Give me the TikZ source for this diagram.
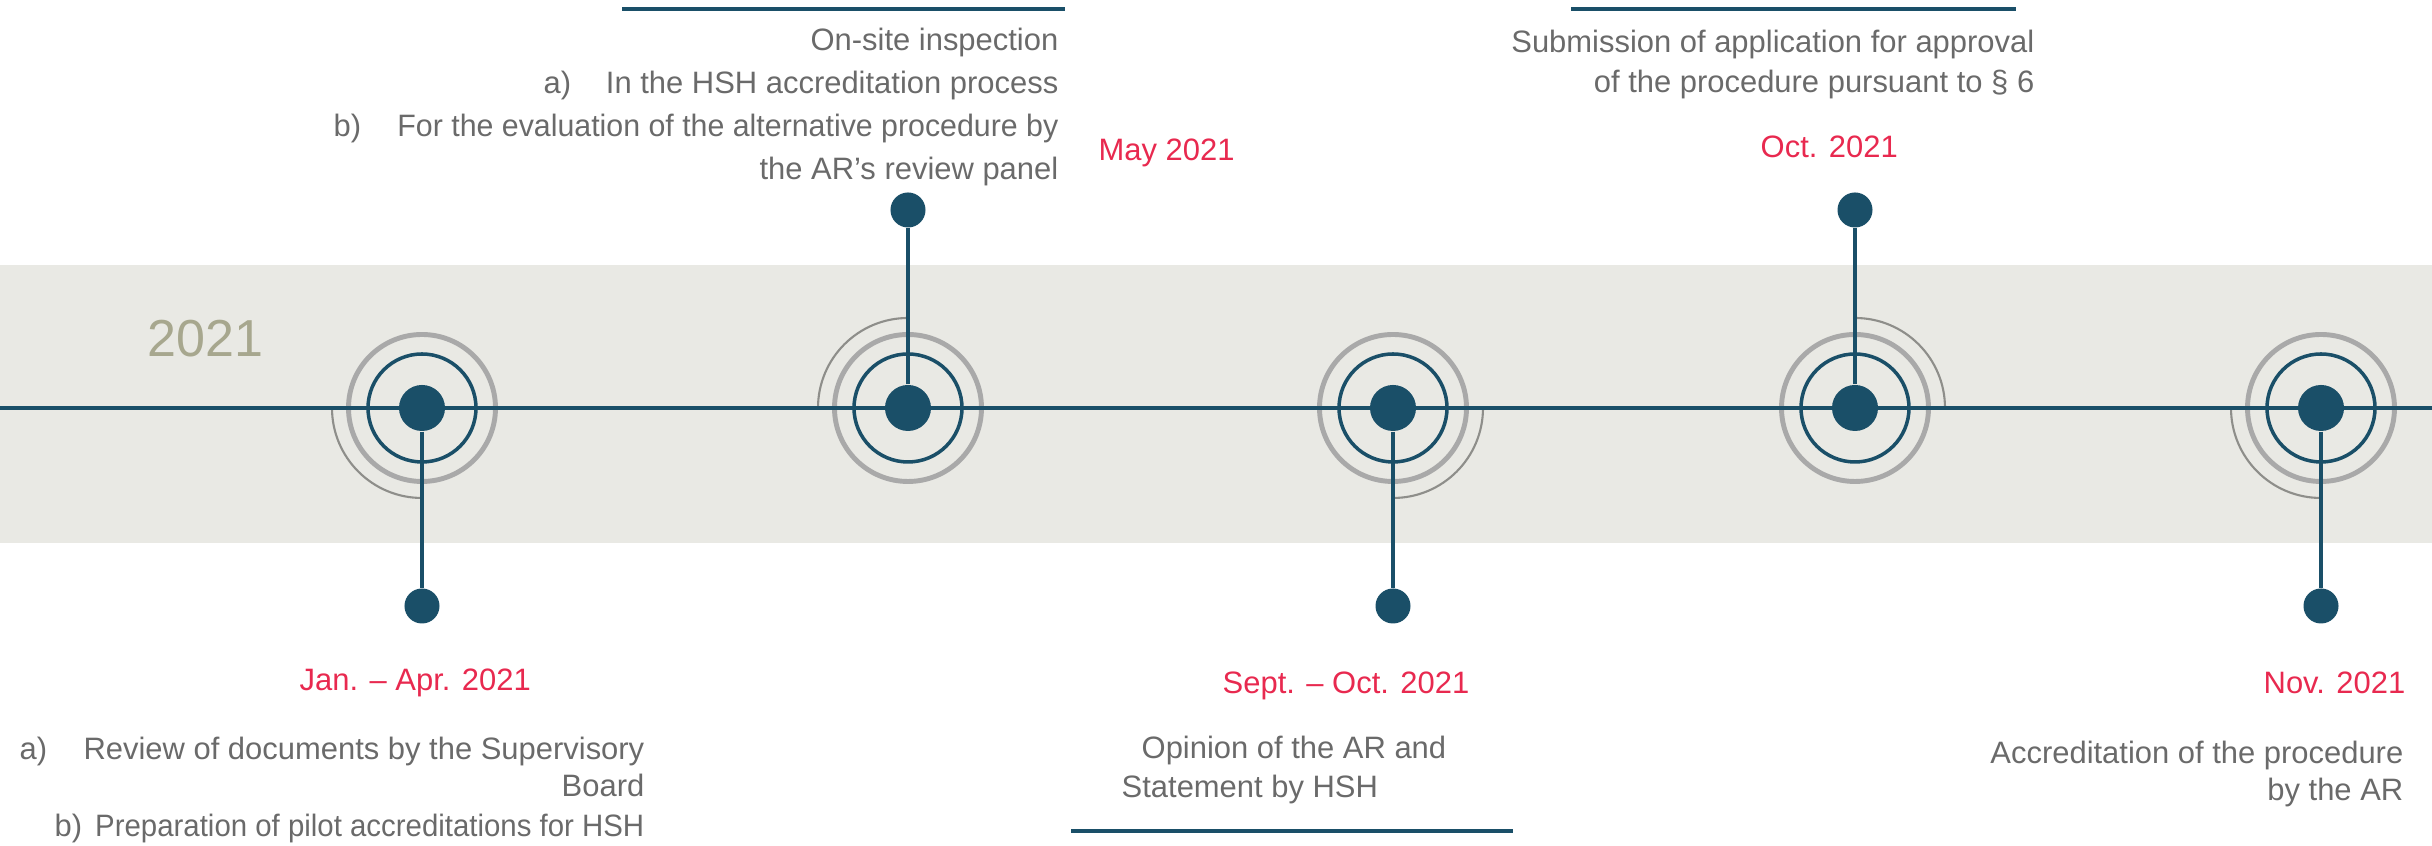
\documentclass[tikz,border=0pt]{standalone}
\usepackage{fontspec}
\setmainfont{Liberation Sans}
\definecolor{tlblue}{HTML}{1A4F68}
\definecolor{ringgray}{HTML}{A9A9A9}
\definecolor{arcgray}{HTML}{8E8E8A}
\definecolor{bandgray}{HTML}{E9E9E4}
\definecolor{txtgray}{HTML}{6A6A6A}
\definecolor{datered}{HTML}{E8294F}
\definecolor{yeargray}{HTML}{A7A78E}
\begin{document}
\begin{tikzpicture}[x=0.01cm, y=0.01cm, font=\fontsize{8.8}{12}\selectfont, line cap=butt,
	dot/.style={circle, fill=tlblue, inner sep=0pt, minimum size=0.46cm},
	tipdot/.style={circle, fill=tlblue, inner sep=0pt, minimum size=0.35cm},
	ring/.style={ringgray, line width=1.4pt},
	inring/.style={tlblue, line width=1pt},
	quarter/.style={arcgray, line width=0.6pt},
	stem/.style={tlblue, line width=1.1pt},
	bar/.style={tlblue, line width=1.2pt},
	txt/.style={text=txtgray, inner sep=0pt},
	date/.style={text=datered, inner sep=0pt}]
	\def\ty{438} \def\st{198}
	\useasboundingbox (0,0) rectangle (2432,846);
	\fill[bandgray] (0,303) rectangle (2432,581);
	\node[text=yeargray, font=\fontsize{14.8}{16}\selectfont, anchor=base west, inner sep=0pt] (year) at (147,489) {2021};
	\foreach \x/\a in {422/180, 908/90, 1393/270, 1855/0, 2321/180}{
		\draw[ring] (\x,\ty) circle (73.5);
		\draw[inring] (\x,\ty) circle (54);
		\draw[quarter] ([shift={(\a:90)}]\x,\ty) arc[start angle=\a, end angle=\a+90, radius=90];
	}
	\coordinate (west) at (0,\ty); \coordinate (east) at (2432,\ty);
	\draw[stem] (west) -- (east);
	\foreach \i/\x/\d in {1/422/-1, 2/908/1, 3/1393/-1, 4/1855/1, 5/2321/-1}{
		\node[dot] (c\i) at (\x,\ty) {};
		\node[tipdot] (e\i) at (\x,\ty+\d*\st) {};
		\draw[stem] (c\i) -- (e\i);
	}
	% rules over and under the texts
	\draw[bar] (622,837) -- (1065,837);
	\draw[bar] (1571,837) -- (2016,837);
	\draw[bar] (1071,15) -- (1513,15);
	% dates
	\node[date, anchor=base west] (d1) at (299,155) {Jan. – Apr. 2021};
	\node[date, anchor=base west] (d2) at (1098,685) {May 2021};
	\node[date, anchor=base west] (d3) at (1222,152) {Sept. – Oct. 2021};
	\node[date, anchor=base west] (d4) at (1760,688) {Oct. 2021};
	\node[date, anchor=base east] (d5) at (2406,152) {Nov. 2021};
	% texts
	\node[txt, anchor=base west] (la1) at (19,86) {a)};
	\node[txt, anchor=base east] (l11) at (645,86) {Review of documents by the Supervisory};
	\node[txt, anchor=base east] (l12) at (645,49) {Board};
	\node[txt, anchor=base west] (lb1) at (54,9) {b)};
	\node[txt, anchor=base east] (l13) at (645,9) {\scalebox{0.95}[1]{Preparation of pilot accreditations for HSH}};
	\node[txt, anchor=base east] (l21) at (1059,795) {On-site inspection};
	\node[txt, anchor=base west] (la2) at (543,752) {a)};
	\node[txt, anchor=base east] (l22) at (1059,752) {In the HSH accreditation process};
	\node[txt, anchor=base west] (lb2) at (333,709) {b)};
	\node[txt, anchor=base east] (l23) at (1059,709) {\scalebox{0.98}[1]{For the evaluation of the alternative procedure by}};
	\node[txt, anchor=base east] (l24) at (1059,666) {the AR’s review panel};
	\node[txt, anchor=base west] (l31) at (1141,87) {Opinion of the AR and};
	\node[txt, anchor=base west] (l32) at (1121,48) {Statement by HSH};
	\node[txt, anchor=base east] (l41) at (2035,793) {Submission of application for approval};
	\node[txt, anchor=base east] (l42) at (2035,753) {of the procedure pursuant to § 6};
	\node[txt, anchor=base east] (l51) at (2404,82) {Accreditation of the procedure};
	\node[txt, anchor=base east] (l52) at (2404,45) {by the AR};
\end{tikzpicture}
\end{document}
